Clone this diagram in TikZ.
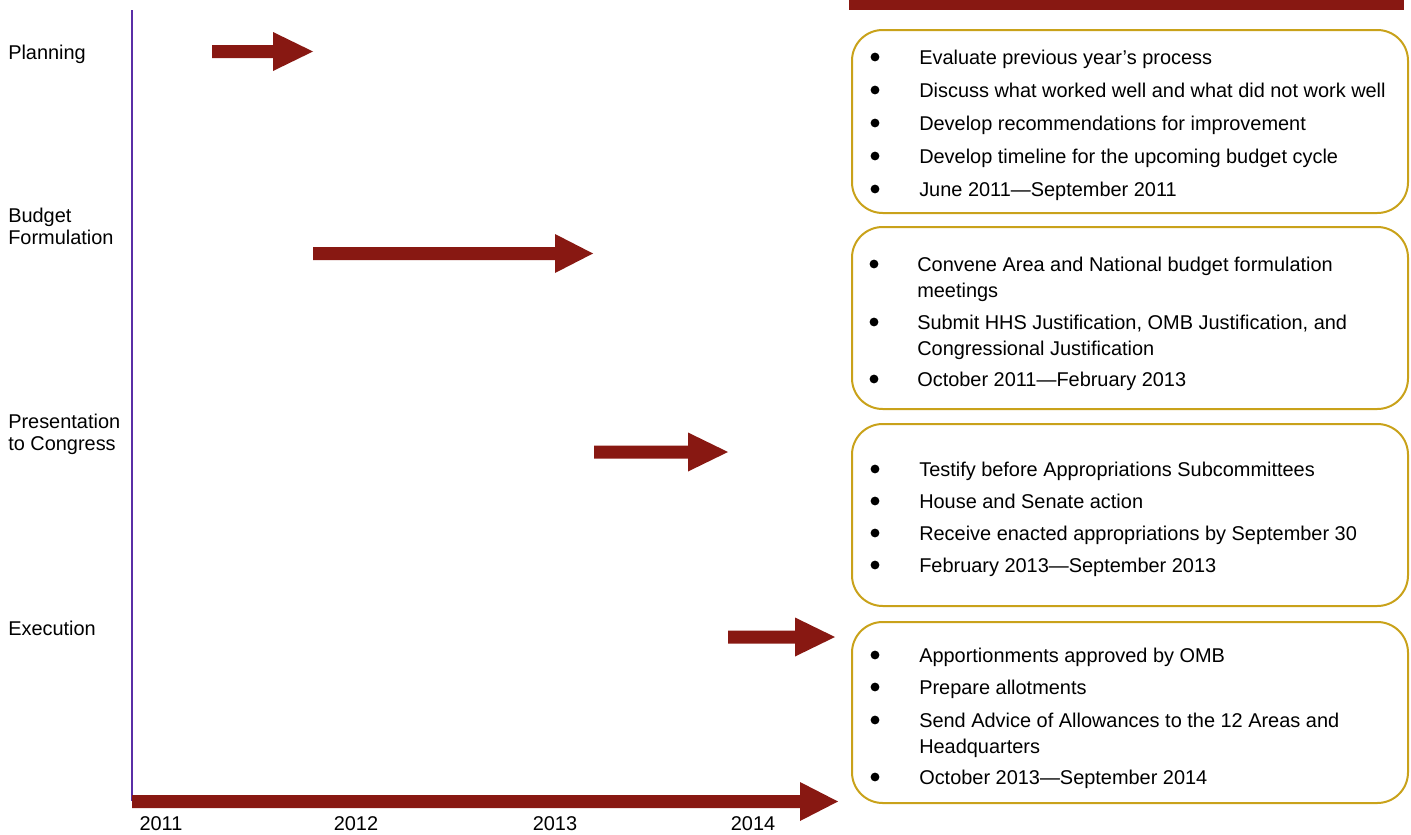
\documentclass[tikz,border=0pt]{standalone}
\usepackage{fontspec}
\setmainfont{Liberation Sans}
\definecolor{arrowred}{HTML}{881812}
\definecolor{boxgold}{HTML}{C9A21A}
\definecolor{axispurple}{HTML}{5A2EA6}
\newcommand{\blockarrow}[4]{%
  \fill[arrowred] (#1,#4-6.5) -- (#2,#4-6.5) -- (#2,#4-19.5) -- (#3,#4)
    -- (#2,#4+19.5) -- (#2,#4+6.5) -- (#1,#4+6.5) -- cycle;}
\begin{document}
\begin{tikzpicture}[x=0.75pt,y=-0.75pt,
  font=\fontsize{14.95}{17}\selectfont,
  lbl/.style={anchor=base west, inner sep=0pt},
  yr/.style={anchor=base, inner sep=0pt},
  bul/.style={circle, fill=black, inner sep=0pt, minimum size=6.6pt},
  phasebox/.style={draw=boxgold, line width=1.5pt, rounded corners=23pt,
    inner sep=0pt, anchor=north west, minimum width=417pt}]
\useasboundingbox (0,0) rectangle (1411,835);
% top bar
\fill[arrowred] (849,0) rectangle (1404,10);
% vertical axis
\draw[axispurple, line width=1.5pt] (132,10) -- (132,801);
% horizontal axis arrow
\blockarrow{132}{800}{838}{801.5}
% phase arrows
\blockarrow{212}{273}{313}{51.5}
\blockarrow{313}{555}{593}{253.5}
\blockarrow{594}{688}{728}{452}
\blockarrow{728}{795}{835}{637}
% left labels
\node[lbl] (l1) at (8,59) {Planning};
\node[lbl] (l2a) at (8,222) {Budget};
\node[lbl] (l2b) at (8,244) {Formulation};
\node[lbl] (l3a) at (8,428) {Presentation};
\node[lbl] (l3b) at (8,450) {to Congress};
\node[lbl] (l4) at (8,635) {Execution};
% years
\node[yr] (y1) at (161,830) {2011};
\node[yr] (y2) at (356,830) {2012};
\node[yr] (y3) at (555,830) {2013};
\node[yr] (y4) at (753,830) {2014};
% boxes
\node[phasebox, minimum height=137.25pt] (b1) at (851,29) {};
\node[phasebox, minimum height=136.5pt] (b2) at (851,226) {};
\node[phasebox, minimum height=136.5pt] (b3) at (851,423) {};
\node[phasebox, minimum height=135.75pt] (b4) at (851,621) {};
% box 1
\node[bul] (p1) at (875,57) {};
\node[lbl] (t1) at (919,64) {Evaluate previous year’s process};
\node[bul] (p2) at (875,90) {};
\node[lbl] (t2) at (919,97) {Discuss what worked well and what did not work well};
\node[bul] (p3) at (875,123) {};
\node[lbl] (t3) at (919,130) {Develop recommendations for improvement};
\node[bul] (p4) at (875,156) {};
\node[lbl] (t4) at (919,163) {Develop timeline for the upcoming budget cycle};
\node[bul] (p5) at (875,189) {};
\node[lbl] (t5) at (919,196) {June 2011—September 2011};
% box 2
\node[bul] (q1) at (874,264) {};
\node[lbl] (u1) at (917,271) {Convene Area and National budget formulation};
\node[lbl] (u1b) at (917,297) {meetings};
\node[bul] (q2) at (874,322) {};
\node[lbl] (u2) at (917,329) {Submit HHS Justification, OMB Justification, and};
\node[lbl] (u2b) at (917,355) {Congressional Justification};
\node[bul] (q3) at (874,379) {};
\node[lbl] (u3) at (917,386) {October 2011—February 2013};
% box 3
\node[bul] (r1) at (875,469) {};
\node[lbl] (v1) at (919,476) {Testify before Appropriations Subcommittees};
\node[bul] (r2) at (875,501) {};
\node[lbl] (v2) at (919,508) {House and Senate action};
\node[bul] (r3) at (875,533) {};
\node[lbl] (v3) at (919,540) {Receive enacted appropriations by September 30};
\node[bul] (r4) at (875,565) {};
\node[lbl] (v4) at (919,572) {February 2013—September 2013};
% box 4
\node[bul] (s1) at (875,655) {};
\node[lbl] (w1) at (919,662) {Apportionments approved by OMB};
\node[bul] (s2) at (875,687) {};
\node[lbl] (w2) at (919,694) {Prepare allotments};
\node[bul] (s3) at (875,720) {};
\node[lbl] (w3) at (919,727) {Send Advice of Allowances to the 12 Areas and};
\node[lbl] (w3b) at (919,753) {Headquarters};
\node[bul] (s4) at (875,777) {};
\node[lbl] (w4) at (919,784) {October 2013—September 2014};
\end{tikzpicture}
\end{document}
